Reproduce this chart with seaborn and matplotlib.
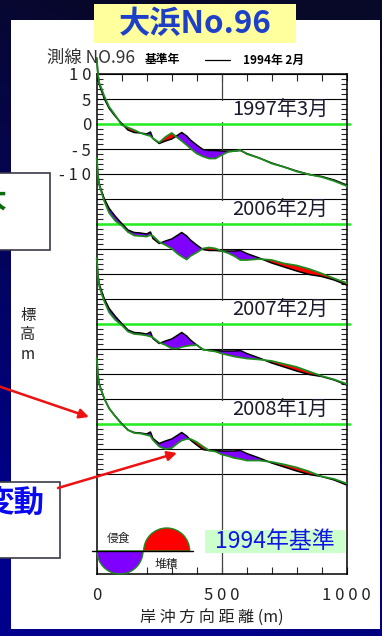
import numpy as np
import matplotlib
matplotlib.use("Agg")
import matplotlib.pyplot as plt
import seaborn as sns
from matplotlib.patches import Rectangle, Wedge

# cross-shore distance (m)
distance = [0, 5, 10, 20, 30, 50, 75, 100, 125, 150, 175, 200, 215, 225, 250, 275,
            300, 325, 340, 360, 375, 400, 425, 450, 475, 500, 525, 550, 575, 600,
            650, 700, 750, 800, 850, 900, 950, 1000]

# reference profile, Feb 1994 (m)
base_1994 = [13.2, 9.8, 8.0, 6.5, 5.1, 3.1, 1.5, 0.1, -1.2, -1.7, -1.8, -2.0, -1.6, -2.9,
             -3.9, -3.4, -3.0, -2.2, -1.7, -2.4, -3.2, -4.2, -5.1, -5.3, -5.3, -5.4, -5.4,
             -5.4, -5.3, -5.9, -6.8, -7.8, -8.6, -9.4, -10.1, -10.5, -11.2, -12.2]

prof_1997 = [13.2, 10.0, 8.3, 7.0, 5.6, 3.4, 1.7, -0.2, -0.7, -1.2, -1.8, -2.2, -2.4, -2.9,
             -3.7, -2.6, -1.8, -2.8, -3.4, -4.2, -4.9, -5.9, -6.5, -6.9, -6.9, -6.2, -5.6,
             -5.4, -5.2, -6.0, -6.8, -7.9, -8.6, -9.5, -10.1, -10.6, -11.4, -12.4]

prof_2006 = [13.2, 9.6, 7.8, 6.2, 4.6, 2.2, 0.6, -0.3, -1.6, -2.3, -2.4, -2.5, -2.2, -2.4,
             -3.6, -4.2, -4.9, -6.0, -6.5, -7.1, -6.4, -5.7, -4.9, -4.7, -4.9, -5.4, -5.8,
             -6.4, -7.2, -7.2, -7.0, -7.2, -7.9, -8.3, -9.0, -9.9, -10.9, -11.8]

prof_2007 = [13.2, 9.6, 7.6, 6.0, 4.6, 2.3, 0.8, -0.2, -1.5, -2.0, -2.1, -2.3, -2.5, -2.7,
             -3.7, -4.2, -4.9, -4.9, -4.6, -4.4, -4.3, -4.2, -5.1, -5.3, -5.5, -5.9, -6.2,
             -6.5, -6.7, -6.9, -7.1, -7.4, -8.0, -8.6, -9.5, -10.4, -11.1, -12.0]

prof_2008 = [13.2, 9.8, 8.0, 6.5, 5.1, 3.1, 1.5, 0.0, -1.2, -1.8, -1.9, -2.2, -2.4, -3.2,
             -4.5, -5.0, -4.8, -3.8, -3.3, -3.0, -3.0, -3.6, -4.5, -5.3, -5.5, -6.1, -6.4,
             -6.8, -7.0, -7.3, -7.3, -7.6, -8.1, -8.7, -9.5, -10.5, -11.0, -11.9]

survey_labels = ["1997年3月", "2006年2月", "2007年2月", "2008年1月"]
surveys = [prof_1997, prof_2006, prof_2007, prof_2008]

ytick_vals = [10, 5, 0, -5, -10]
ytick_text = ["1 0", "5", "0", "- 5", "- 1 0"]
xtick_vals = [0, 500, 1000]
xtick_text = ["0", "5 0 0", "1 0 0 0"]

sns.set_style("white")
plt.rcParams['font.family'] = ['Noto Sans CJK JP', 'DejaVu Sans']

W, H = 382, 636
fig = plt.figure(figsize=(W / 100, H / 100), dpi=100)


def px_box(x0, y0, x1, y1):
    return [x0 / W, 1 - y1 / H, (x1 - x0) / W, (y1 - y0) / H]


# slide background (dark navy gradient) + white panel
bg = fig.add_axes([0, 0, 1, 1])
bg.set_xlim(0, W)
bg.set_ylim(H, 0)
bg.axis('off')
gy, gx = np.mgrid[0:1:160j, 0:1:100j]
t = np.clip(1.1 * gy + 0.35 * (1 - gx) - 0.25, 0, 1)
c0 = np.array([8, 8, 40]) / 255
c1 = np.array([0, 0, 140]) / 255
grad = c0[None, None, :] * (1 - t[..., None]) + c1[None, None, :] * t[..., None]
bg.imshow(grad, extent=(0, W, H, 0), aspect='auto', interpolation='bilinear')
bg.add_patch(Rectangle((11, 20), 369, 609, fc='white', ec='none'))

# main profile axes
ax = fig.add_axes(px_box(96.7, 74, 346.7, 574))
ax.set_facecolor('none')
ax.set_xlim(0, 1000)
ax.set_ylim(-90, 10)

for yg in range(10, -71, -5):
    ax.axhline(yg, color='black', lw=0.8, zorder=1)
ax.axvline(500, color='#444444', lw=0.9, zorder=1)

x = np.array(distance)
base = np.array(base_1994)
for i, (label, prof) in enumerate(zip(survey_labels, surveys)):
    off = -20 * i
    b = base + off
    n = np.array(prof) + off
    # level line of this panel
    ax.plot([0, 1012], [off, off], color='#22ee22', lw=1.8, clip_on=False, zorder=2)
    # label with white background
    ax.add_patch(Rectangle((496, off + 0.4), 462, 4.3, fc='white', ec='none', zorder=2.5))
    ax.text(541, off + 2.7, label, fontsize=14.5, color='#1a1a2e', ha='left', va='center', zorder=4)
    # erosion / deposition
    ax.fill_between(x, b, n, where=n < b, interpolate=True, color='#8000ff', lw=0, zorder=3)
    ax.fill_between(x, b, n, where=n > b, interpolate=True, color='#ff0000', lw=0, zorder=3)
    sns.lineplot(x=x, y=b, color='black', lw=1.1, ax=ax, zorder=3.5)
    ax.lines[-1].set_clip_on(False)
    sns.lineplot(x=x, y=n, color='#1f8a1f', lw=1.3, ax=ax, zorder=3.6)
    ax.lines[-1].set_clip_on(False)

ax.set_yticks(list(range(-70, 11)))
ax.set_yticklabels([ytick_text[ytick_vals.index(v)] if v in ytick_vals else "" for v in range(-70, 11)])
ax.set_xticks(list(range(0, 1001, 100)))
ax.set_xticklabels([xtick_text[xtick_vals.index(v)] if v in xtick_vals else "" for v in range(0, 1001, 100)])
ax.tick_params(axis='y', direction='in', length=4.5, width=0.8, left=True, right=True,
               labelsize=12, pad=4, labelcolor='#222222')
ax.tick_params(axis='x', direction='in', length=5, width=0.8, top=True, bottom=True,
               labelsize=12, pad=9, labelcolor='#222222')
for sp in ax.spines.values():
    sp.set_visible(True)
    sp.set_color('black')
    sp.set_linewidth(1.1)

ax.set_xlabel("岸 沖 方 向 距 離 (m)", fontsize=11.5, color='#222222')
ax.xaxis.set_label_coords(0.46, -0.07)
ax.set_ylabel("標\n高\nm", fontsize=11, color='#222222', rotation=0, linespacing=1.2,
              ha='center', va='center')
ax.yaxis.set_label_coords(-0.275, 0.478)

# overlay: title, header, callouts, legend
ov = fig.add_axes([0, 0, 1, 1])
ov.set_xlim(0, W)
ov.set_ylim(H, 0)
ov.axis('off')

ov.add_patch(Rectangle((94, 4), 202, 39, fc='#ffff9e', ec='none'))
ov.text(195, 24, "大浜No.96", fontsize=22.5, fontweight='bold', color='#1e40c8', ha='center', va='center')

ov.text(47, 58, "測線 NO.96", fontsize=12.5, color='#333333', ha='left', va='center')
ov.text(145, 60, "基準年", fontsize=8.5, fontweight='bold', color='black', ha='left', va='center')
ov.plot([205, 230], [60, 60], color='black', lw=0.9)
ov.text(243, 60, "1994年 2月", fontsize=8.5, fontweight='bold', color='black', ha='left', va='center')

ov.add_patch(Rectangle((-5, 173), 55, 77, fc='white', ec='#3a3a4a', lw=1.2))
ov.text(7, 200, "大", fontsize=20, fontweight='bold', color='#0a6b0a', ha='right', va='center')
ov.add_patch(Rectangle((-5, 482), 65, 76, fc='white', ec='#3a3a4a', lw=1.2))
ov.text(44, 504, "変動", fontsize=22, fontweight='bold', color='#0a0af0', ha='right', va='center')

arrow = dict(arrowstyle='-|>', color='#ee1111', lw=1.8, mutation_scale=14, shrinkA=0, shrinkB=0)
ov.annotate('', xy=(89, 417), xytext=(-2, 386), arrowprops=arrow)
ov.annotate('', xy=(177, 453), xytext=(58, 488), arrowprops=arrow)

ov.plot([92, 193], [551, 551], color='black', lw=1)
ov.add_patch(Wedge((120, 551), 23, 0, 180, fc='#8000ff', ec='#1f8a1f', lw=1))
ov.add_patch(Wedge((166.7, 551), 23, 180, 360, fc='#ff0000', ec='#1f8a1f', lw=1))
ov.text(119, 538, "侵食", fontsize=8.5, color='#222222', ha='center', va='center')
ov.text(166, 564, "堆積", fontsize=8.5, color='#222222', ha='center', va='center')

ov.add_patch(Rectangle((205, 530), 140, 23, fc='#ccffcc', ec='none'))
ov.text(275, 541, "1994年基準", fontsize=16.5, color='#1414e6', ha='center', va='center')

fig.savefig("out.png", dpi=100)
